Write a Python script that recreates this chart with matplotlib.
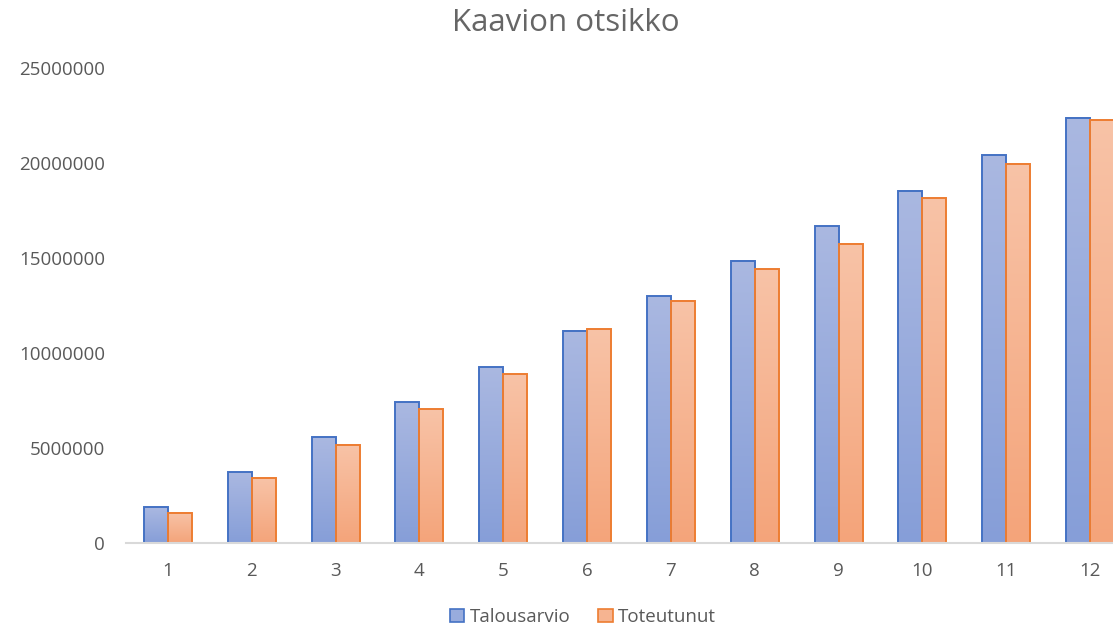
import matplotlib.pyplot as plt
import numpy as np
from matplotlib.patches import Patch
from matplotlib.colors import to_rgb

categories = ["1", "2", "3", "4", "5", "6", "7", "8", "9", "10", "11", "12"]
talousarvio = [1870000, 3720000, 5560000, 7410000, 9260000, 11160000,
               12980000, 14860000, 16680000, 18540000, 20400000, 22370000]
toteutunut = [1590000, 3420000, 5160000, 7040000, 8890000, 11260000,
              12750000, 14420000, 15750000, 18140000, 19950000, 22260000]
series_names = ["Talousarvio", "Toteutunut"]
yticks = [0, 5000000, 10000000, 15000000, 20000000, 25000000]

W, H = 1113, 627
fig = plt.figure(figsize=(W / 100, H / 100), dpi=100)
plt.rcParams['font.family'] = ['Open Sans', 'DejaVu Sans']
txt = '#595959'

# plot area (extends past the right edge, like the reference)
ax = fig.add_axes([126 / W, (H - 543) / H, 1006 / W, 475 / H])

x = np.arange(len(categories))
bw = 0.286

def gradient_bars(xpos, vals, top, bottom, edge):
    bars = ax.bar(xpos, vals, width=bw, facecolor='none', edgecolor=edge,
                  linewidth=1.4, zorder=3)
    grad = np.linspace(np.array(to_rgb(top)), np.array(to_rgb(bottom)), 256)[:, None, :]
    for b in bars:
        x0, w, h = b.get_x(), b.get_width(), b.get_height()
        ax.imshow(grad, extent=[x0, x0 + w, 0, h], aspect='auto',
                  interpolation='bilinear', zorder=2)
    return bars

gradient_bars(x - bw / 2, talousarvio, '#AAB8E1', '#869ED8', '#4472C4')
gradient_bars(x + bw / 2, toteutunut, '#F8C3A7', '#F4A47A', '#ED7D31')

ax.set_xlim(-0.5, len(categories) - 0.5)
ax.set_ylim(0, 25000000)
ax.set_xticks(x)
ax.set_xticklabels(categories)
ax.set_yticks(yticks)
ax.set_yticklabels([str(v) for v in yticks])
ax.tick_params(axis='both', length=0, labelsize=13.5, colors=txt)
ax.tick_params(axis='y', pad=15)
ax.tick_params(axis='x', pad=14)
for s in ['top', 'right', 'left']:
    ax.spines[s].set_visible(False)
ax.spines['bottom'].set_color('#D9D9D9')
ax.spines['bottom'].set_linewidth(1.5)
ax.spines['bottom'].set_zorder(4)

fig.text(566 / W, 1 - 23 / H, "Kaavion otsikko", ha='center', va='center',
         fontsize=22.5, color='#666666')

handles = [Patch(facecolor='#98ACDD', edgecolor='#4472C4', linewidth=1.2),
           Patch(facecolor='#F6B491', edgecolor='#ED7D31', linewidth=1.2)]
fig.legend(handles, series_names, loc='center', bbox_to_anchor=(583 / W, 1 - 617 / H),
           ncol=2, frameon=False, fontsize=13.5, labelcolor=txt,
           handlelength=0.75, handleheight=0.75, handletextpad=0.3, columnspacing=1.5)

fig.savefig('out.png', dpi=100)
